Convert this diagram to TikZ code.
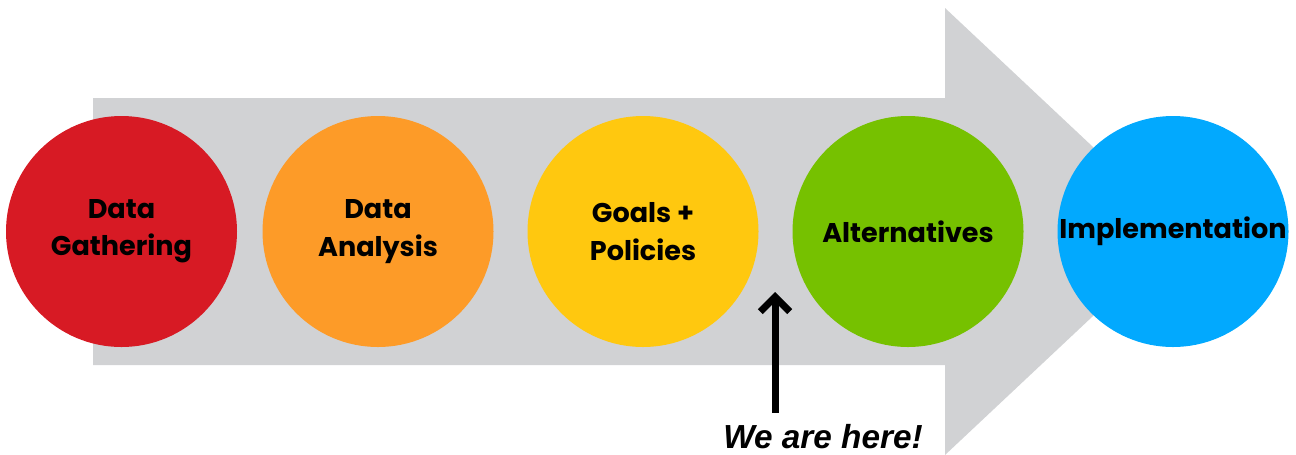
\documentclass[tikz,border=0pt]{standalone}
\usepackage{fontspec}
\newfontfamily\stagefont{Poppins}
\newfontfamily\notefont{Liberation Sans}
\usetikzlibrary{arrows.meta}

\definecolor{arrowgrey}{HTML}{D1D2D4}
\definecolor{stagered}{HTML}{D71A24}
\definecolor{stageorange}{HTML}{FD9B28}
\definecolor{stageyellow}{HTML}{FFC80F}
\definecolor{stagegreen}{HTML}{76C100}
\definecolor{stageblue}{HTML}{02A9FE}

\tikzset{
  stage/.style={circle, minimum size=231*0.75pt, inner sep=0pt, align=center,
    font=\stagefont\bfseries\fontsize{20.3}{28}\selectfont, text=black},
}

\begin{document}
\begin{tikzpicture}[x=0.75pt,y=0.75pt,yscale=-1,xscale=1]
\useasboundingbox (0,0) rectangle (1296,454);

%Big grey arrow
\fill[arrowgrey] (93,98) -- (945,98) -- (945,8) -- (1183,231.5) -- (945,455) -- (945,365) -- (93,365) -- cycle;

% Stage circles
\node[stage, fill=stagered]    (gather) at (121.5,231.5) {Data\\Gathering};
\node[stage, fill=stageorange] (analyse) at (378,231.5) {Data\\Analysis};
\node[stage, fill=stageyellow] (goals) at (643,231.5) {Goals +\\Policies};
\node[stage, fill=stagegreen]  (altern) at (908,231.5) {Alternatives};
\node[stage, fill=stageblue]   (implem) at (1173,231.5) {Implementation};

% Text Node
\node[font=\notefont\bfseries\itshape\fontsize{25}{30}\selectfont, inner sep=0pt] (here) at (823,437) {We are here!};
\coordinate (herept) at (775,292);

%Straight Lines
\draw[line width=5.25pt, -{Straight Barb[length=11pt, width=22pt]}] (here.north -| herept) ++(0,-12) -- (herept);

\end{tikzpicture}
\end{document}
